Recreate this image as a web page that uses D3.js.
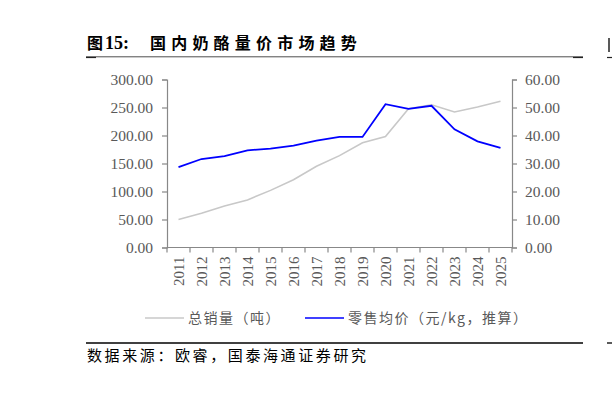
<!DOCTYPE html>
<html>
<head>
<meta charset="utf-8">
<script src="https://cdn.jsdelivr.net/npm/d3@7"></script>
<style>
  body { margin: 0; background: #fff; }
  svg { display: block; }
</style>
</head>
<body>
<svg id="chart"></svg>
<script>
const years = ['2011', '2012', '2013', '2014', '2015', '2016', '2017', '2018',
  '2019', '2020', '2021', '2022', '2023', '2024', '2025']
// 总销量（吨）, left axis
const volume = [50, 61, 74, 85, 102, 121, 145, 164, 187, 198, 248, 255, 242, 251, 261]
// 零售均价（元/kg，推算）, right axis
const price = [28.7, 31.6, 32.6, 34.7, 35.3, 36.4, 38.2, 39.5, 39.5, 51.2, 49.5, 50.6, 42.2, 37.9, 35.6]
const leftTicks = [0, 50, 100, 150, 200, 250, 300]
const rightTicks = [0, 10, 20, 30, 40, 50, 60]

const width = 612, height = 403
const margin = { top: 79.5, left: 167, bottom: 155.5, right: 100 }
const iwidth = width - margin.left - margin.right
const iheight = height - margin.top - margin.bottom

const svg = d3.select('#chart').attr('width', width).attr('height', height)
const serif = '"Liberation Serif", "Times New Roman", serif'
const cjk = '"Noto Sans CJK SC", sans-serif'

// title + rules
const title = svg.append('text')
  .attr('y', 48.5)
  .style('font-weight', 'bold')
  .attr('fill', '#000')
title.append('tspan').attr('x', 87)
  .style('font-family', cjk).style('font-size', '16px').text('图')
title.append('tspan').attr('x', 105)
  .style('font-family', serif).style('font-size', '18px').text('15:')
title.append('tspan').attr('x', 150)
  .style('font-family', cjk).style('font-size', '16px').style('letter-spacing', '5.2px')
  .text('国内奶酪量价市场趋势')
svg.append('line').attr('x1', 86).attr('x2', 583).attr('y1', 56.8).attr('y2', 56.8)
  .attr('stroke', '#222').attr('stroke-width', 0.8)
svg.append('line').attr('x1', 86).attr('x2', 96).attr('y1', 57.5).attr('y2', 57.5)
  .attr('stroke', '#222').attr('stroke-width', 1.2)
svg.append('line').attr('x1', 573).attr('x2', 583).attr('y1', 57.5).attr('y2', 57.5)
  .attr('stroke', '#222').attr('stroke-width', 1.2)
svg.append('line').attr('x1', 607).attr('x2', 612).attr('y1', 57.5).attr('y2', 57.5)
  .attr('stroke', '#222').attr('stroke-width', 1.2)
svg.append('line').attr('x1', 609).attr('x2', 609).attr('y1', 38).attr('y2', 52)
  .attr('stroke', '#222').attr('stroke-width', 1.5)

const g = svg.append('g').attr('transform', `translate(${margin.left},${margin.top})`)

const x = d3.scaleBand().domain(years).range([0, iwidth])
const yL = d3.scaleLinear().domain([0, 300]).range([iheight, 0])
const yR = d3.scaleLinear().domain([0, 60]).range([iheight, 0])
const cx = (d) => x(d) + x.bandwidth() / 2

const axisColor = '#888'
const labelColor = '#595959'

function styleAxis(sel) {
  sel.selectAll('path, line').attr('stroke', axisColor).attr('stroke-width', 1.2)
  sel.selectAll('text').attr('fill', labelColor)
    .style('font-family', serif).style('font-size', '15.5px')
}

g.append('g')
  .call(d3.axisLeft(yL).tickValues(leftTicks).tickFormat(d3.format('.2f')).tickSize(5).tickSizeOuter(5).tickPadding(9))
  .call(styleAxis)

g.append('g')
  .attr('transform', `translate(${iwidth},0)`)
  .call(d3.axisRight(yR).tickValues(rightTicks).tickFormat(d3.format('.2f')).tickSize(5).tickSizeOuter(5).tickPadding(8))
  .call(styleAxis)

// x axis with ticks on band boundaries
const xAxis = g.append('g').attr('transform', `translate(0,${iheight})`)
xAxis.append('line').attr('x1', 0).attr('x2', iwidth).attr('stroke', axisColor).attr('stroke-width', 1.2)
xAxis.selectAll('.tk').data(years.concat(['end'])).enter().append('line')
  .attr('x1', (d, i) => i * x.step()).attr('x2', (d, i) => i * x.step())
  .attr('y1', 0).attr('y2', 5).attr('stroke', axisColor).attr('stroke-width', 1.2)
xAxis.selectAll('text').data(years).enter().append('text')
  .attr('transform', (d) => `translate(${cx(d) + 5},${9}) rotate(-90)`)
  .attr('text-anchor', 'end')
  .attr('fill', labelColor)
  .style('font-family', serif).style('font-size', '15px')
  .text((d) => d)

const volLine = d3.line().x((d, i) => cx(years[i])).y((d) => yL(d))
const priceLine = d3.line().x((d, i) => cx(years[i])).y((d) => yR(d))

g.append('path').datum(volume)
  .attr('d', volLine).attr('fill', 'none')
  .attr('stroke', '#c8c8c8').attr('stroke-width', 1.6)

g.append('path').datum(price)
  .attr('d', priceLine).attr('fill', 'none')
  .attr('stroke', '#0000ff').attr('stroke-width', 1.8)

// legend
const legend = [
  { name: '总销量（吨）', color: '#c8c8c8', x: 145 },
  { name: '零售均价（元/kg，推算）', color: '#0000ff', x: 305 }
]
const lg = svg.selectAll('.legend').data(legend).enter().append('g')
  .attr('transform', (d) => `translate(${d.x},318)`)
lg.append('line').attr('x1', 0).attr('x2', 39).attr('stroke', (d) => d.color).attr('stroke-width', 1.6)
lg.append('text').attr('x', 43).attr('y', 5)
  .attr('fill', labelColor)
  .style('font-family', cjk).style('font-size', '14px').style('letter-spacing', '1.5px')
  .text((d) => d.name)

// source
svg.append('line').attr('x1', 86).attr('x2', 583).attr('y1', 343).attr('y2', 343)
  .attr('stroke', '#000').attr('stroke-width', 1.3)
svg.append('line').attr('x1', 607).attr('x2', 612).attr('y1', 343).attr('y2', 343)
  .attr('stroke', '#000').attr('stroke-width', 1.3)
svg.append('text')
  .attr('x', 87).attr('y', 361)
  .style('font-family', cjk).style('font-size', '15px').style('letter-spacing', '2.6px')
  .attr('fill', '#000')
  .text('数据来源：欧睿，国泰海通证券研究')
</script>
</body>
</html>
